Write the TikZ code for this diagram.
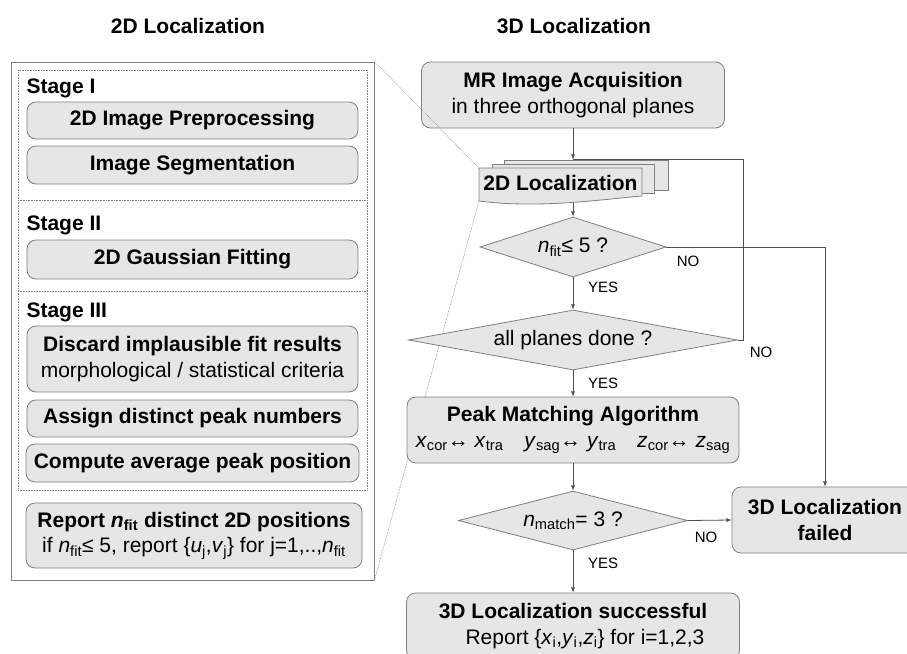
\documentclass[tikz,border=0pt]{standalone}
\usepackage{fontspec}
\setmainfont{Liberation Sans}
\usepackage{tikz}
\usetikzlibrary{calc,shapes.geometric,arrows}

\definecolor{boxfill}{HTML}{E6E6E6}
\definecolor{boxline}{HTML}{7F7F7F}
\definecolor{flowline}{HTML}{4D4D4D}
\newcommand{\nsub}[2]{\textit{#1}\textsubscript{#2}}

\begin{document}
\begin{tikzpicture}[x=1pt,y=-1pt,
    big/.style={font=\fontsize{21}{25.5}\selectfont},
    box/.style={draw=boxline,fill=boxfill,rounded corners=9pt,line width=0.8pt,inner sep=0pt,align=center,big},
    docback/.style={draw=boxline,fill=boxfill,line width=0.8pt,inner sep=0pt},
    decision/.style={diamond,draw=boxline,fill=boxfill,line width=0.8pt,inner sep=0pt,big},
    lbl/.style={font=\fontsize{15}{18}\selectfont},
    flow/.style={draw=flowline,line width=0.8pt,-latex},
    dots/.style={draw=boxline,densely dotted,line width=0.6pt}]
    \useasboundingbox (0,0) rectangle (907,653);
    \clip (0,0) rectangle (907,653);

    \node[big] (title2d) at (188,26) {\textbf{2D Localization}};
    \node[big] (title3d) at (574,26) {\textbf{3D Localization}};

    \node[draw=boxline,fill=white,line width=0.8pt,minimum width=363,minimum height=518] (frame2d) at (192.5,321) {};
    \node[dots,minimum width=349,minimum height=420] (stages) at (192.5,280) {};
    \foreach \y in {200,291}
        \draw[dots] (18,\y) -- (367,\y);

    \node[big,anchor=west] (stage1) at (23,88) {\textbf{Stage I}};
    \node[big,anchor=west] (stage2) at (23,225) {\textbf{Stage II}};
    \node[big,anchor=west] (stage3) at (23,312) {\textbf{Stage III}};

    \node[box,minimum width=331,minimum height=37] (prep) at (192.5,120.5) {\textbf{2D Image Preprocessing}};
    \node[box,minimum width=331,minimum height=38] (segm) at (192.5,165) {\textbf{Image Segmentation}};
    \node[box,minimum width=331,minimum height=39] (gauss) at (192.5,259.5) {\textbf{2D Gaussian Fitting}};
    \node[box,minimum width=331,minimum height=66] (discard) at (192.5,359) {\textbf{Discard implausible fit results}\\morphological / statistical criteria};
    \node[box,minimum width=331,minimum height=37] (assign) at (192.5,418.5) {\textbf{Assign distinct peak numbers}};
    \node[box,minimum width=333,minimum height=38] (avg) at (192.5,463) {\textbf{Compute average peak position}};
    \node[box,minimum width=336,minimum height=65] (report) at (194,535.5) {\textbf{Report \nsub{n}{fit} distinct 2D positions}\\if \nsub{n}{fit}≤ 5, report \{\nsub{u}{j},\nsub{v}{j}\} for j=1,..,\nsub{n}{fit}};

    \node[box,minimum width=303,minimum height=66] (mr) at (573,95) {\textbf{MR Image Acquisition}\\in three orthogonal planes};

    \coordinate (docnw) at (479,168);
    \coordinate (docsw) at (479,201);
    \draw[dots] (frame2d.north east) -- (docnw);
    \draw[dots] (frame2d.south east) -- (docsw);
    \node[docback,minimum width=164,minimum height=30] (loc3) at (586,175) {};
    \node[docback,minimum width=162,minimum height=29] (loc2) at (573,178.5) {};
    \draw[draw=boxline,fill=boxfill,line width=0.8pt] (docnw) -- (642,168) -- (642,196) .. controls (605,199) and (540,209) .. (docsw) -- cycle;
    \node[big] (loc) at (560.5,183) {\textbf{2D Localization}};

    \node[decision,aspect=3.1,minimum width=186,minimum height=60] (fit) at (573,247) {\nsub{n}{fit}≤ 5 ?};
    \node[decision,aspect=5.5,minimum width=329,minimum height=60] (planes) at (573,340) {all planes done ?};
    \node[box,minimum width=332,minimum height=66] (peak) at (573,430) {\textbf{Peak Matching Algorithm}\\\nsub{x}{cor}↔ \nsub{x}{tra}\quad \nsub{y}{sag}↔ \nsub{y}{tra}\quad \nsub{z}{cor}↔ \nsub{z}{sag}};
    \node[decision,aspect=3.9,minimum width=229,minimum height=59] (match) at (573,520.5) {\nsub{n}{match}= 3 ?};
    \node[box,minimum width=186,minimum height=66] (failed) at (825,520) {\textbf{3D Localization}\\\textbf{failed}};
    \node[box,minimum width=333,minimum height=66] (success) at (573,626) {\textbf{3D Localization successful}\\\hspace*{24pt}Report \{\nsub{x}{i},\nsub{y}{i},\nsub{z}{i}\} for i=1,2,3};

    \coordinate (locin) at (mr.south |- loc3.north);
    \coordinate (locout) at (573,203);
    \draw[flow] (mr.south) -- (locin);
    \draw[flow] (locout) -- (fit.north);
    \draw[flow] (fit.south) -- (planes.north);
    \draw[flow] (planes.south) -- (peak.north);
    \draw[flow] (peak.south) -- (match.north);
    \draw[flow] (match.south) -- (success.north);
    \draw[flow] (match.east) -- (failed.west);
    \draw[flow] (fit.east) -| (failed.north);
    \draw[flow,-] (planes.east) -- ++(5,0) |- (locin);

    \node[lbl] (no1) at (688,261) {NO};
    \node[lbl] (yes1) at (603,287) {YES};
    \node[lbl] (no2) at (761,352) {NO};
    \node[lbl] (yes2) at (603,383) {YES};
    \node[lbl] (no3) at (706,537) {NO};
    \node[lbl] (yes3) at (603,563) {YES};
\end{tikzpicture}
\end{document}
